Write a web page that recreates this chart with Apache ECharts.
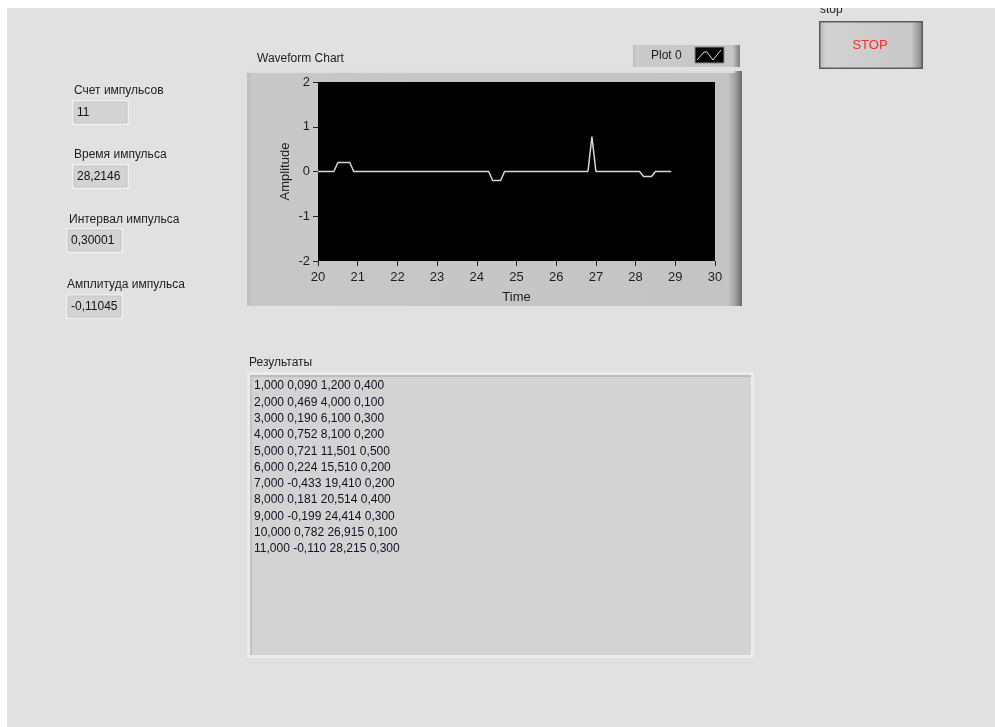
<!DOCTYPE html>
<html>
<head>
    <meta charset="utf-8">
    <title>Waveform Chart - импульсы</title>
    <script src="https://cdn.jsdelivr.net/npm/echarts@6/dist/echarts.min.js"></script>
    <style>
        html, body { margin: 0; padding: 0; background: #ffffff; }
        #panel { width: 995px; height: 727px; }
    </style>
</head>
<body>
    <div id="panel"></div>

    <script>
        // waveform points (time, amplitude)
        const timeValues = [20, 20.4, 20.5, 20.8, 20.9, 24.3, 24.4, 24.6, 24.7, 26.8, 26.9, 27.0, 28.1, 28.2, 28.4, 28.5, 28.9];
        const amplitudeValues = [0, 0, 0.2, 0.2, 0, 0, -0.2, -0.2, 0, 0, 0.78, 0, 0, -0.11, -0.11, 0, 0];

        // indicators on the left
        const indicatorLabels = ['Счет импульсов', 'Время импульса', 'Интервал импульса', 'Амплитуда импульса'];
        const indicatorValues = ['11', '28,2146', '0,300017', '-0,110451'];

        // Результаты table columns
        const resultIndex = [1, 2, 3, 4, 5, 6, 7, 8, 9, 10, 11];
        const resultAmplitude = [0.090, 0.469, 0.190, 0.752, 0.721, 0.224, -0.433, 0.181, -0.199, 0.782, -0.110];
        const resultTime = [1.200, 4.000, 6.100, 8.100, 11.501, 15.510, 19.410, 20.514, 24.414, 26.915, 28.215];
        const resultInterval = [0.400, 0.100, 0.300, 0.200, 0.500, 0.200, 0.200, 0.400, 0.300, 0.100, 0.300];

        const FONT = '"Liberation Sans", Arial, sans-serif';
        const fmt = v => v.toFixed(3).replace('.', ',');

        let g = [];

        // light border strips of the screenshot
        g.push({ type: 'rect', z: 100, shape: { x: 0, y: 0, width: 995, height: 8 }, style: { fill: '#ffffff' } });
        g.push({ type: 'rect', z: 100, shape: { x: 0, y: 0, width: 7, height: 727 }, style: { fill: '#ffffff' } });

        // indicators
        const indBox = [
            { lx: 74, ly: 91, bx: 72, by: 100 },
            { lx: 74, ly: 155, bx: 72, by: 164 },
            { lx: 69, ly: 220, bx: 66, by: 228 },
            { lx: 67, ly: 285, bx: 66, by: 294 }
        ];
        indicatorLabels.forEach((lab, i) => {
            const p = indBox[i];
            g.push({ type: 'text', style: { x: p.lx, y: p.ly, text: lab, fill: '#1e1e1e', font: '12px ' + FONT, verticalAlign: 'middle' } });
            g.push({ type: 'rect', shape: { x: p.bx, y: p.by, width: 57, height: 25 }, style: { fill: '#efefef' } });
            g.push({ type: 'rect', shape: { x: p.bx + 2, y: p.by + 2, width: 53, height: 21 }, style: { fill: '#d3d3d3', stroke: '#c4c4c4', lineWidth: 1 } });
            g.push({ type: 'text', style: { x: p.bx + 5, y: p.by + 12.5, text: indicatorValues[i], fill: '#111', font: '12px ' + FONT, verticalAlign: 'middle', width: 50, overflow: 'truncate', ellipsis: '' } });
        });

        // stop button
        g.push({ type: 'text', style: { x: 820, y: 10, text: 'stop', fill: '#1e1e1e', font: '12px ' + FONT, verticalAlign: 'middle' } });
        g.push({ type: 'rect', shape: { x: 819, y: 21, width: 104, height: 48 }, style: { fill: '#5a5a5a' } });
        g.push({
            type: 'rect', shape: { x: 820.5, y: 22.5, width: 101, height: 45 },
            style: { fill: new echarts.graphic.LinearGradient(0, 0, 1, 0, [
                { offset: 0, color: '#b9b9b9' }, { offset: 0.06, color: '#d2d2d2' },
                { offset: 0.9, color: '#c8c8c8' }, { offset: 1, color: '#8a8a8a' }
            ]) }
        });
        g.push({ type: 'text', style: { x: 870, y: 45, text: 'STOP', fill: '#ff2a2a', font: '13px ' + FONT, align: 'center', verticalAlign: 'middle' } });

        // waveform chart frame
        g.push({ type: 'text', style: { x: 257, y: 59, text: 'Waveform Chart', fill: '#1e1e1e', font: '12px ' + FONT, verticalAlign: 'middle' } });
        g.push({
            type: 'rect', z: -5, shape: { x: 247, y: 71, width: 495, height: 235 },
            style: { fill: new echarts.graphic.LinearGradient(0, 0, 1, 0, [
                { offset: 0, color: '#bdbdbd' }, { offset: 0.01, color: '#c8c8c8' },
                { offset: 0.972, color: '#c4c4c4' }, { offset: 0.986, color: '#a2a2a2' }, { offset: 1, color: '#6a6a6a' }
            ]) }
        });
        g.push({ type: 'rect', z: -4, shape: { x: 247, y: 71, width: 488, height: 2 }, style: { fill: '#dcdcdc' } });

        // legend "Plot 0"
        g.push({
            type: 'rect', shape: { x: 633, y: 45, width: 107, height: 22 },
            style: { fill: new echarts.graphic.LinearGradient(0, 0, 1, 0, [
                { offset: 0, color: '#bdbdbd' }, { offset: 0.03, color: '#cacaca' },
                { offset: 0.93, color: '#c6c6c6' }, { offset: 1, color: '#7c7c7c' }
            ]) }
        });
        g.push({ type: 'text', style: { x: 651, y: 56, text: 'Plot 0', fill: '#1e1e1e', font: '12px ' + FONT, verticalAlign: 'middle' } });
        g.push({ type: 'rect', shape: { x: 695, y: 47, width: 29, height: 16 }, style: { fill: '#000', stroke: '#8a8a8a', lineWidth: 1 } });
        g.push({ type: 'polyline', shape: { points: [[697, 60], [704, 52], [707, 52], [713, 60], [721, 50]] }, style: { stroke: '#e0e0e0', lineWidth: 1, fill: null } });

        // Результаты
        g.push({ type: 'text', style: { x: 249, y: 363, text: 'Результаты', fill: '#1e1e1e', font: '12px ' + FONT, verticalAlign: 'middle' } });
        g.push({ type: 'rect', shape: { x: 247, y: 372, width: 507, height: 286 }, style: { fill: '#ececec' } });
        g.push({ type: 'rect', shape: { x: 250, y: 375, width: 501, height: 280 }, style: { fill: '#d3d3d3' } });
        g.push({ type: 'rect', shape: { x: 250, y: 375, width: 501, height: 2 }, style: { fill: '#bcbcbc' } });
        g.push({ type: 'rect', shape: { x: 250, y: 375, width: 2, height: 280 }, style: { fill: '#c2c2c2' } });
        resultIndex.forEach((n, i) => {
            const line = [fmt(n), fmt(resultAmplitude[i]), fmt(resultTime[i]), fmt(resultInterval[i])].join(' ');
            g.push({ type: 'text', style: { x: 254, y: 386 + i * 16.3, text: line, fill: '#111122', font: '12px ' + FONT, verticalAlign: 'middle' } });
        });

        const chart = echarts.init(document.getElementById('panel'));
        chart.setOption({
            backgroundColor: '#e1e1e1',
            animation: false,
            graphic: g,
            grid: {
                left: 318, top: 82, width: 397, height: 179,
                show: true, backgroundColor: '#000000', borderWidth: 0
            },
            xAxis: {
                type: 'value', min: 20, max: 30, interval: 1,
                name: 'Time', nameLocation: 'middle', nameGap: 30,
                nameTextStyle: { color: '#1e1e1e', fontSize: 13, fontFamily: FONT },
                axisLine: { show: false, onZero: false },
                axisTick: { show: true, length: 5, lineStyle: { color: '#222' } },
                axisLabel: { color: '#1e1e1e', fontSize: 13, fontFamily: FONT, margin: 10 },
                splitLine: { show: false }
            },
            yAxis: {
                type: 'value', min: -2, max: 2, interval: 1,
                name: 'Amplitude', nameLocation: 'middle', nameGap: 26, nameRotate: 90,
                nameTextStyle: { color: '#1e1e1e', fontSize: 13, fontFamily: FONT },
                axisLine: { show: false, onZero: false },
                axisTick: { show: true, length: 5, lineStyle: { color: '#222' } },
                axisLabel: { color: '#1e1e1e', fontSize: 13, fontFamily: FONT, margin: 8 },
                splitLine: { show: false }
            },
            series: [{
                name: 'Plot 0',
                type: 'line',
                data: timeValues.map((t, i) => [t, amplitudeValues[i]]),
                showSymbol: false,
                lineStyle: { color: '#d8d8d8', width: 1.5 }
            }]
        });
    </script>
</body>
</html>
